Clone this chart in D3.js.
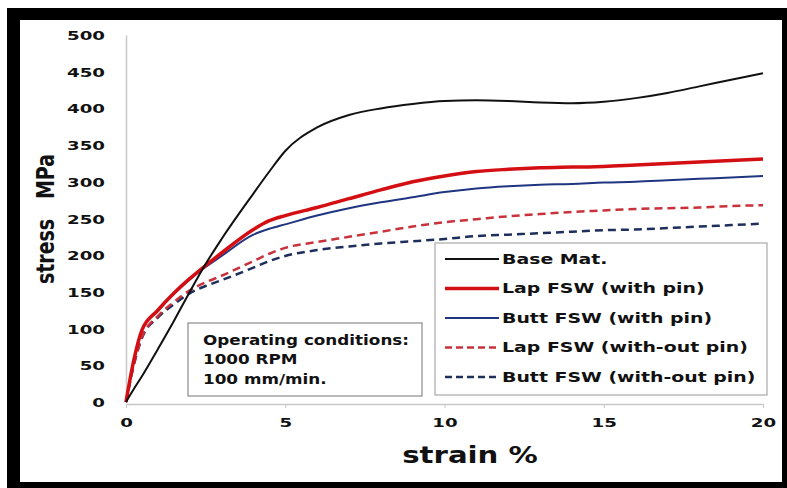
<!DOCTYPE html>
<html>
<head>
<meta charset="utf-8">
<script src="https://cdnjs.cloudflare.com/ajax/libs/d3/7.8.5/d3.min.js"></script>
<style>
  body { margin: 0; background: #fff; }
  svg text { font-family: "DejaVu Sans", sans-serif; font-weight: bold; fill: #111; }
</style>
</head>
<body>
<div id="chart"></div>
<script>
// strain (%) sample points, shared by all curves
var strain = [0, 0.25, 0.5, 1, 1.5, 2, 2.5, 3, 4, 4.5, 5, 6, 7, 8, 9, 10, 11, 12, 13, 14, 15, 16, 17, 18, 19, 20];

// stress (MPa)
var baseMat     = [0, 18, 35, 72, 110, 150, 188, 222, 284, 314, 342, 374, 391, 400, 406, 410, 411, 410, 408, 407, 409, 414, 421, 430, 439, 448];
var lapPin      = [0, 58, 98, 125, 148, 168, 186, 203, 235, 247, 254, 265, 277, 289, 300, 308, 314, 317, 319, 320, 321, 323, 325, 327, 329, 331];
var buttPin     = [0, 57, 97, 124, 147, 167, 184, 199, 228, 236, 242, 254, 264, 272, 279, 286, 291, 294, 296, 297, 299, 300, 302, 304, 306, 308];
var lapNoPin    = [0, 52, 88, 117, 136, 152, 163, 172, 192, 202, 210, 218, 225, 232, 239, 245, 249, 253, 256, 259, 261, 263, 264, 265, 267, 268];
var buttNoPin   = [0, 51, 87, 115, 133, 148, 158, 166, 183, 192, 199, 207, 212, 216, 219, 222, 226, 228, 230, 232, 234, 235, 237, 239, 241, 243];

var seriesNames = ["Base Mat.", "Lap FSW (with pin)", "Butt FSW (with pin)", "Lap FSW (with-out pin)", "Butt FSW (with-out pin)"];
var seriesValues = [baseMat, lapPin, buttPin, lapNoPin, buttNoPin];
var seriesColors = ["#111111", "#d40f14", "#1f3580", "#c8323c", "#1e2f5c"];
var seriesWidths = [2, 3.5, 2, 2.5, 2.5];
var seriesDash = [null, null, null, "8,5", "8,5"];

var xTicks = [0, 5, 10, 15, 20];
var yTicks = [0, 50, 100, 150, 200, 250, 300, 350, 400, 450, 500];
var noteLines = ["Operating conditions:", "1000 RPM", "100 mm/min."];

var width = 787, height = 488;

var svg = d3.select("#chart").append("svg")
  .attr("width", width)
  .attr("height", height);

// the original lettering is a wide heavy face, so stretch text sideways
function wideText(parent, px, py, str, size, sx, anchor) {
  return parent.append("text")
    .attr("transform", "translate(" + px + "," + py + ") scale(" + sx + ",1)")
    .attr("dy", "0.35em")
    .attr("text-anchor", anchor || "start")
    .style("font-size", size + "px")
    .text(str);
}

// black frame round the picture
svg.append("rect").attr("x", 0).attr("y", 0).attr("width", width).attr("height", height).attr("fill", "#fff");
svg.append("rect").attr("x", 7).attr("y", 8).attr("width", width - 7).attr("height", 12).attr("fill", "#000");
svg.append("rect").attr("x", 7).attr("y", 8).attr("width", 13).attr("height", height - 8).attr("fill", "#000");
svg.append("rect").attr("x", 7).attr("y", 482).attr("width", width - 7).attr("height", 6).attr("fill", "#000");
svg.append("rect").attr("x", 782).attr("y", 8).attr("width", 5).attr("height", height - 8).attr("fill", "#000");

var x = d3.scaleLinear().domain([0, 20]).range([126, 763]);
var y = d3.scaleLinear().domain([0, 500]).range([402, 35]);

// y axis
var yAxis = svg.append("g")
  .attr("transform", "translate(126,0)")
  .call(d3.axisLeft(y).tickValues(yTicks).tickSize(0));
yAxis.select(".domain").attr("stroke", "#c8c8c8").attr("stroke-width", 1.5);
yAxis.selectAll("text")
  .attr("x", null)
  .attr("dy", "0.35em")
  .attr("transform", "translate(-21,0) scale(1.4,1)")
  .style("font-size", "13px");

// x axis
var xAxis = svg.append("g")
  .attr("transform", "translate(0,404)")
  .call(d3.axisBottom(x).tickValues(xTicks).tickSize(4).tickSizeOuter(0).tickPadding(10));
xAxis.select(".domain").attr("stroke", "#c8c8c8").attr("stroke-width", 1.5);
xAxis.selectAll(".tick line").attr("stroke", "#c8c8c8");
xAxis.selectAll("text")
  .attr("transform", "scale(1.4,1)")
  .style("font-size", "13px");

// axis titles
wideText(svg, 470, 455, "strain %", 23, 1.27, "middle");

svg.append("text")
  .attr("transform", "translate(45,219) rotate(-90) scale(1,1.35)")
  .attr("dy", "0.35em")
  .attr("text-anchor", "middle")
  .style("font-size", "19px")
  .style("white-space", "pre")
  .text("stress   MPa");

// curves
var line = d3.line()
  .x(function(d) { return x(d[0]); })
  .y(function(d) { return y(d[1]); })
  .curve(d3.curveMonotoneX);

// draw base material last so it sits on top
var order = [4, 3, 2, 1, 0];
order.forEach(function(i) {
  var pts = strain.map(function(s, k) { return [s, seriesValues[i][k]]; });
  svg.append("path")
    .datum(pts)
    .attr("d", line)
    .attr("fill", "none")
    .attr("stroke", seriesColors[i])
    .attr("stroke-width", seriesWidths[i])
    .attr("stroke-dasharray", seriesDash[i]);
});

// legend
var legend = svg.append("g");
legend.append("rect")
  .attr("x", 435).attr("y", 243).attr("width", 332).attr("height", 152)
  .attr("fill", "#fff").attr("stroke", "#a8a8a8").attr("stroke-width", 1.2);

seriesNames.forEach(function(name, i) {
  var ly = 259 + i * 29.5;
  legend.append("line")
    .attr("x1", 445).attr("x2", 499).attr("y1", ly).attr("y2", ly)
    .attr("stroke", seriesColors[i])
    .attr("stroke-width", seriesWidths[i])
    .attr("stroke-dasharray", seriesDash[i] ? "7,4" : null);
  wideText(legend, 502, ly, name, 14, 1.35);
});

// operating conditions box
var note = svg.append("g");
note.append("rect")
  .attr("x", 188).attr("y", 323).attr("width", 234).attr("height", 73)
  .attr("fill", "#fff").attr("stroke", "#8a8a8a").attr("stroke-width", 1.2);
noteLines.forEach(function(t, i) {
  wideText(note, 203, [340, 359, 379][i], t, 14, 1.2);
});
</script>
</body>
</html>
